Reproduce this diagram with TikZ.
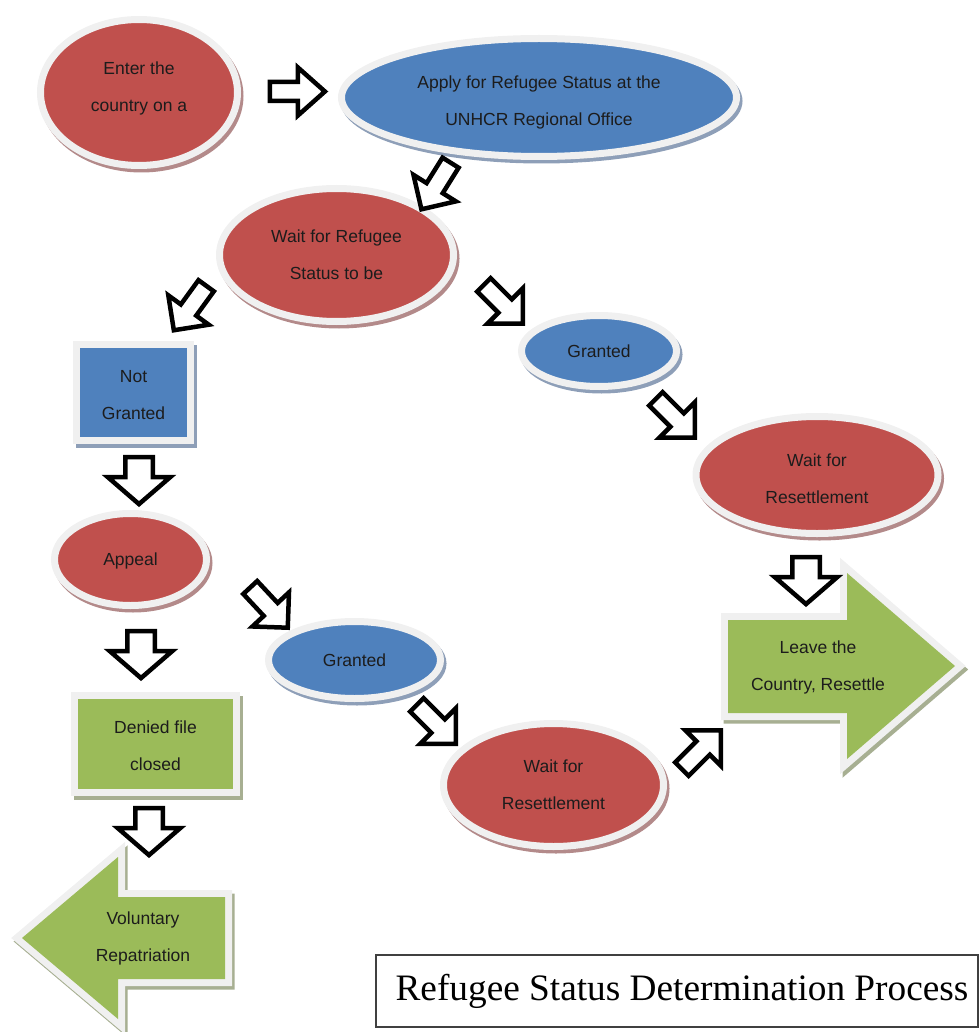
\documentclass[tikz,border=0pt]{standalone}
\usepackage{fontspec}
\setmainfont{Liberation Sans}
\newfontfamily\titlefont{Liberation Serif}
\usetikzlibrary{shapes.geometric}
\definecolor{redf}{HTML}{C0504D}
\definecolor{bluef}{HTML}{4F81BD}
\definecolor{greenf}{HTML}{9BBB59}
\definecolor{ringc}{HTML}{F0F0F0}
\definecolor{redsh}{HTML}{B38A8A}
\definecolor{bluesh}{HTML}{8E9FB8}
\definecolor{greensh}{HTML}{A7AF92}
\definecolor{txtc}{HTML}{1C1C1C}
\tikzset{
  txt/.style={inner sep=0pt, align=center, font=\fontsize{17.5}{37}\selectfont, text=txtc},
  shad/.style={preaction={draw=#1, fill=#1, line width=7pt, transform canvas={shift={(2.5pt,-3.5pt)}}}},
  ell/.style={ellipse, inner sep=0pt, draw=ringc, line width=7pt},
  rbox/.style={rectangle, inner sep=0pt, draw=ringc, line width=7pt},
  redell/.style={ell, fill=redf, shad=redsh},
  blueell/.style={ell, fill=bluef, shad=bluesh},
  hollow/.style={draw=black, fill=white, line width=4.5pt, line join=miter},
  pics/harrow/.style n args={4}{code={
    \draw[hollow] (-#1/2,-#2/2) -- (#1/2-#4,-#2/2) -- (#1/2-#4,-#3/2) -- (#1/2,0)
      -- (#1/2-#4,#3/2) -- (#1/2-#4,#2/2) -- (-#1/2,#2/2) -- cycle;}},
}
\begin{document}
\begin{tikzpicture}[x=1pt,y=-1pt]
\useasboundingbox (0,0) rectangle (979,1032);

% ellipses
\node[redell, minimum width=197pt, minimum height=146pt,
  label={[txt, yshift=4pt]center:{Enter the\\country on a}}] (enter) at (139,92.5) {};
\node[blueell, minimum width=395pt, minimum height=118pt,
  label={[txt, yshift=-4.5pt]center:{Apply for Refugee Status at the\\UNHCR Regional Office}}] (apply) at (539,97.5) {};
\node[redell, minimum width=234pt, minimum height=133pt,
  label={[txt]center:{Wait for Refugee\\Status to be}}] (wait) at (336.5,255) {};
\node[blueell, minimum width=155pt, minimum height=71pt,
  label={[txt]center:{Granted}}] (granted1) at (599,351) {};
\node[redell, minimum width=242pt, minimum height=117pt,
  label={[txt, yshift=-4pt]center:{Wait for\\Resettlement}}] (waitR) at (817,475) {};
\node[redell, minimum width=152pt, minimum height=92pt,
  label={[txt, yshift=-1pt]center:{Appeal}}] (appeal) at (130.5,559.5) {};
\node[blueell, minimum width=172pt, minimum height=77pt,
  label={[txt]center:{Granted}}] (granted2) at (354.5,660) {};
\node[redell, minimum width=220pt, minimum height=123pt,
  label={[txt]center:{Wait for\\Resettlement}}] (waitB) at (553.5,785) {};

% rectangles
\node[rbox, fill=bluef, shad=bluesh, minimum width=114pt, minimum height=96pt,
  label={[txt, yshift=-3pt]center:{Not\\Granted}}] (notgr) at (133.5,392.5) {};
\node[rbox, fill=greenf, shad=greensh, minimum width=162pt, minimum height=97pt,
  label={[txt, yshift=-2pt]center:{Denied file\\closed}}] (denied) at (155.5,744) {};

% big green arrows
\draw[greensh, line width=14pt, line join=miter, shift={(2.5,3.5)}] (728,620) -- (847,620) -- (847,573) -- (955,666) -- (847,759) -- (847,713) -- (728,713) -- cycle;
\draw[ringc, line width=14pt, line join=miter] (728,620) -- (847,620) -- (847,573) -- (955,666) -- (847,759) -- (847,713) -- (728,713) -- cycle;
\fill[greenf] (728,620) -- (847,620) -- (847,573) -- (955,666) -- (847,759) -- (847,713) -- (728,713) -- cycle;
\node[txt] (leave) at (818,667.5) {Leave the\\Country, Resettle};

\draw[greensh, line width=14pt, line join=miter, shift={(2.5,3.5)}] (225,897) -- (118,897) -- (118,857) -- (22,938) -- (118,1019) -- (118,979) -- (225,979) -- cycle;
\draw[ringc, line width=14pt, line join=miter] (225,897) -- (118,897) -- (118,857) -- (22,938) -- (118,1019) -- (118,979) -- (225,979) -- cycle;
\fill[greenf] (225,897) -- (118,897) -- (118,857) -- (22,938) -- (118,1019) -- (118,979) -- (225,979) -- cycle;
\node[txt] (volrep) at (143,938.5) {Voluntary\\Repatriation};

% hollow block arrows
\pic[rotate=0] (a1) at (297.4,91.5) {harrow={55}{19}{48}{27}};
\pic[rotate=238] (a2) at (436,186) {harrow={55}{19}{50}{25}};
\pic[rotate=234] (a3) at (190,308) {harrow={55}{19}{50}{25}};
\pic[rotate=-45] (a4) at (503.3,304.3) {harrow={55}{19}{50}{25}};
\pic[rotate=-45] (a5) at (675.3,418.3) {harrow={55}{19}{50}{25}};
\pic[rotate=270] (a6) at (806,580.6) {harrow={47}{27.5}{62.5}{27}};
\pic[rotate=270] (a7) at (139,480.6) {harrow={47}{27.5}{62.5}{27}};
\pic[rotate=270] (a8) at (141,654.6) {harrow={47}{27.5}{62.5}{27}};
\pic[rotate=270] (a9) at (149,831.6) {harrow={47}{27.5}{62.5}{27}};
\pic[rotate=-47] (a10) at (269,607.6) {harrow={55}{19}{50}{25}};
\pic[rotate=-45] (a11) at (436.3,724.3) {harrow={55}{19}{50}{25}};
\pic[rotate=45] (a12) at (701.3,749.7) {harrow={55}{19}{50}{25}};

% title
\node[draw=black!75, line width=1.2pt, minimum width=602pt, minimum height=72pt, inner sep=0pt,
      font=\titlefont\fontsize{37.3}{40}\selectfont] (title) at (677,991) {\hspace{10pt}Refugee Status Determination Process};
\end{tikzpicture}
\end{document}
